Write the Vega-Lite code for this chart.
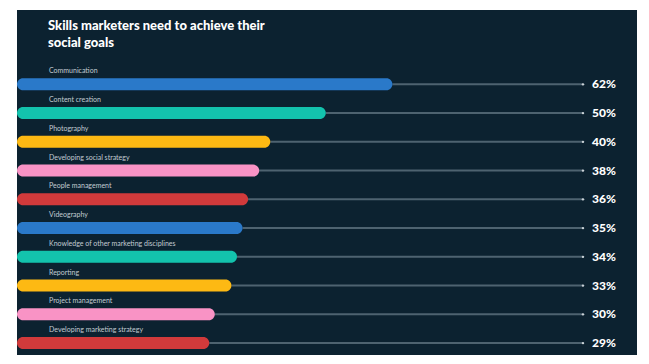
{
  "$schema": "https://vega.github.io/schema/vega-lite/v6.json",
  "width": 620,
  "height": 345,
  "autosize": {"type": "none"},
  "padding": {"left": 17, "top": 10, "right": 12, "bottom": 9},
  "background": "white",
  "view": {"fill": "#0c2230", "stroke": null},
  "title": {
    "text": ["Skills marketers need to achieve their", "social goals"],
    "anchor": "start",
    "frame": "group",
    "orient": "top",
    "offset": -40,
    "dx": 31,
    "font": "Lato",
    "fontSize": 13,
    "fontWeight": 900,
    "color": "#ffffff",
    "lineHeight": 17
  },
  "data": {
    "values": [
      {"skill": "Communication", "pct": 0.62},
      {"skill": "Content creation", "pct": 0.50},
      {"skill": "Photography", "pct": 0.40},
      {"skill": "Developing social strategy", "pct": 0.38},
      {"skill": "People management", "pct": 0.36},
      {"skill": "Videography", "pct": 0.35},
      {"skill": "Knowledge of other marketing disciplines", "pct": 0.34},
      {"skill": "Reporting", "pct": 0.33},
      {"skill": "Project management", "pct": 0.30},
      {"skill": "Developing marketing strategy", "pct": 0.29}
    ]
  },
  "encoding": {
    "y": {
      "field": "skill",
      "type": "nominal",
      "sort": null,
      "axis": null,
      "scale": {"paddingInner": 0, "paddingOuter": 1.04, "align": 0.93}
    }
  },
  "layer": [
    {
      "mark": {"type": "rule", "color": "#4e6370", "strokeWidth": 2, "yOffset": 6.5},
      "encoding": {
        "x": {"field": "pct", "type": "quantitative", "axis": null, "scale": {"domain": [-0.0564, 1.0607], "nice": false, "zero": false}},
        "x2": {"datum": 0.9634}
      }
    },
    {
      "mark": {"type": "point", "filled": true, "color": "#c9d1d6", "size": 6, "opacity": 1, "yOffset": 6.5},
      "encoding": {
        "x": {"datum": 0.9634}
      }
    },
    {
      "mark": {"type": "bar", "height": 12, "cornerRadiusEnd": 6, "yOffset": 6.5},
      "encoding": {
        "x": {"field": "pct", "type": "quantitative"},
        "x2": {"datum": -0.0564},
        "color": {
          "field": "skill",
          "type": "nominal",
          "legend": null,
          "scale": {
            "domain": ["Communication", "Content creation", "Photography", "Developing social strategy", "People management", "Videography", "Knowledge of other marketing disciplines", "Reporting", "Project management", "Developing marketing strategy"],
            "range": ["#2a79c9", "#13c3ad", "#fdb913", "#f993c5", "#d13a3b", "#2a79c9", "#13c3ad", "#fdb913", "#f993c5", "#d13a3b"]
          }
        }
      }
    },
    {
      "mark": {"type": "text", "align": "left", "baseline": "middle", "dx": 32, "dy": -6.5, "font": "Lato", "fontSize": 7, "color": "#c3ccd2"},
      "encoding": {
        "x": {"datum": -0.0564},
        "text": {"field": "skill"}
      }
    },
    {
      "mark": {"type": "text", "align": "left", "baseline": "middle", "dy": 6.5, "font": "Lato", "fontSize": 12, "fontWeight": 900, "color": "#ffffff"},
      "encoding": {
        "x": {"datum": 0.9796},
        "text": {"field": "pct", "type": "quantitative", "format": ".0%"}
      }
    }
  ]
}
